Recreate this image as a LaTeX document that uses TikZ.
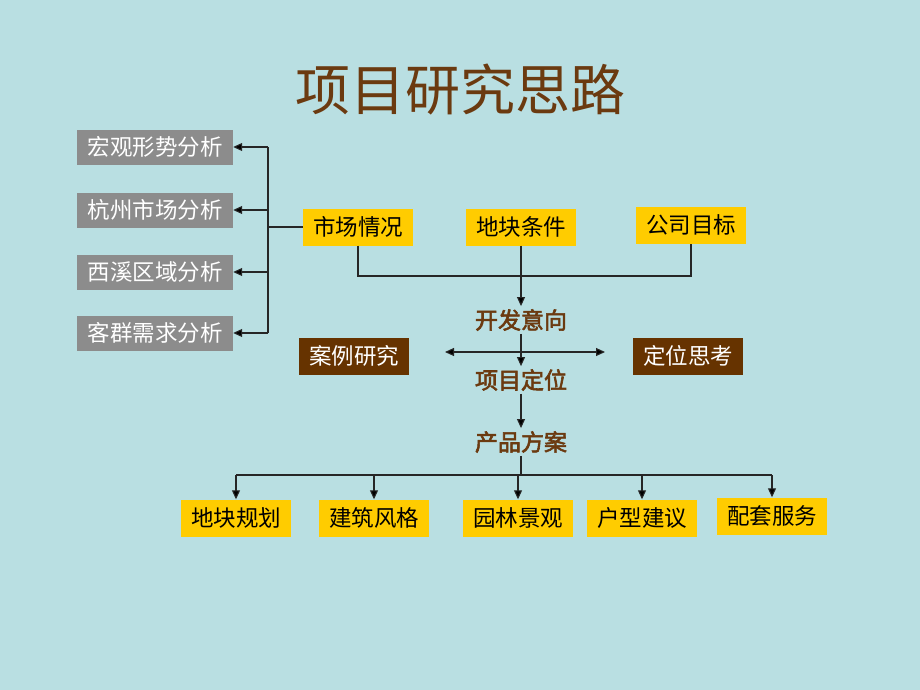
\documentclass[tikz,border=0pt]{standalone}
\usepackage{fontspec}
\newfontfamily\cjk{Noto Sans CJK SC}
\newfontfamily\cjkbold[FakeBold=2.5]{Noto Sans CJK SC}
\usetikzlibrary{arrows.meta}
\definecolor{bgblue}{HTML}{B9DFE2}
\definecolor{boxgray}{HTML}{8C8C8C}
\definecolor{boxyellow}{HTML}{FFCC00}
\definecolor{boxbrown}{HTML}{663300}
\definecolor{textbrown}{HTML}{6B3A10}
\tikzset{
  base/.style={inner sep=0pt, minimum width=110, minimum height=37, font=\cjk\fontsize{22.5}{26}\selectfont},
  graybox/.style={base, fill=boxgray, text=white, minimum width=156, minimum height=35},
  yellowbox/.style={base, fill=boxyellow, text=black},
  brownbox/.style={base, fill=boxbrown, text=white},
  stage/.style={inner sep=3pt, text=textbrown, font=\cjkbold\fontsize{23}{26}\selectfont},
  link/.style={draw=black!85, line width=1.1pt},
  tip/.tip={Triangle[length=9pt,width=8pt,fill=black]},
  arr/.style={link, -tip},
  both/.style={link, tip-tip},
}
\begin{document}
\begin{tikzpicture}[x=1pt,y=-1pt]
	\fill[bgblue] (0,0) rectangle (920,690);
	\node[text=textbrown, font=\cjk\fontsize{55}{60}\selectfont] (title) at (460,90) {项目研究思路};
	% market analysis
	\node[graybox] (hgxs) at (155,147) {宏观形势分析};
	\node[graybox] (hzsc) at (155,210) {杭州市场分析};
	\node[graybox] (xxqy) at (155,272) {西溪区域分析};
	\node[graybox] (kqxq) at (155,333) {客群需求分析};
	% inputs
	\node[yellowbox] (scqk) at (358,227) {市场情况};
	\node[yellowbox] (dktj) at (521,227) {地块条件};
	\node[yellowbox] (gsmb) at (691,225) {公司目标};
	% main line
	\node[stage] (kfyx) at (521,320) {开发意向};
	\node[stage] (xmdw) at (521,380) {项目定位};
	\node[stage] (cpfa) at (521,442) {产品方案};
	\node[brownbox] (alyj) at (354,356) {案例研究};
	\node[brownbox] (dwsk) at (688,356) {定位思考};
	% product
	\node[yellowbox] (dkgh) at (236,518) {地块规划};
	\node[yellowbox] (jzfg) at (374,518) {建筑风格};
	\node[yellowbox] (ylgj) at (518,518) {园林景观};
	\node[yellowbox] (hxjy) at (642,518) {户型建议};
	\node[yellowbox] (ptfw) at (772,516) {配套服务};
	% connectors
	\coordinate (bus) at (268,230);
	\draw[link] (scqk.west) -- (bus |- scqk.west);
	\draw[link] (bus |- hgxs.east) -- (bus |- kqxq.east);
	\foreach \n in {hgxs,hzsc,xxqy,kqxq}
		\draw[arr] (bus |- \n.east) -- (\n.east);
	\coordinate (join) at (521,276);
	\draw[link] (scqk.south) |- (join) -| (gsmb.south);
	\draw[arr] (dktj.south) -- (kfyx.north);
	\draw[arr] (kfyx.south) -- (xmdw.north);
	\coordinate (lt) at (445,352);
	\coordinate (rt) at (605,352);
	\draw[both] (lt) -- (rt);
	\draw[arr] (xmdw.south) -- (cpfa.north);
	\coordinate (fork) at (521,475);
	\draw[link] (cpfa.south) -- (fork);
	\draw[link] (dkgh.north |- fork) -- (ptfw.north |- fork);
	\foreach \n in {dkgh,jzfg,ylgj,hxjy,ptfw}
		\draw[arr] (\n.north |- fork) -- (\n.north);
\end{tikzpicture}
\end{document}
